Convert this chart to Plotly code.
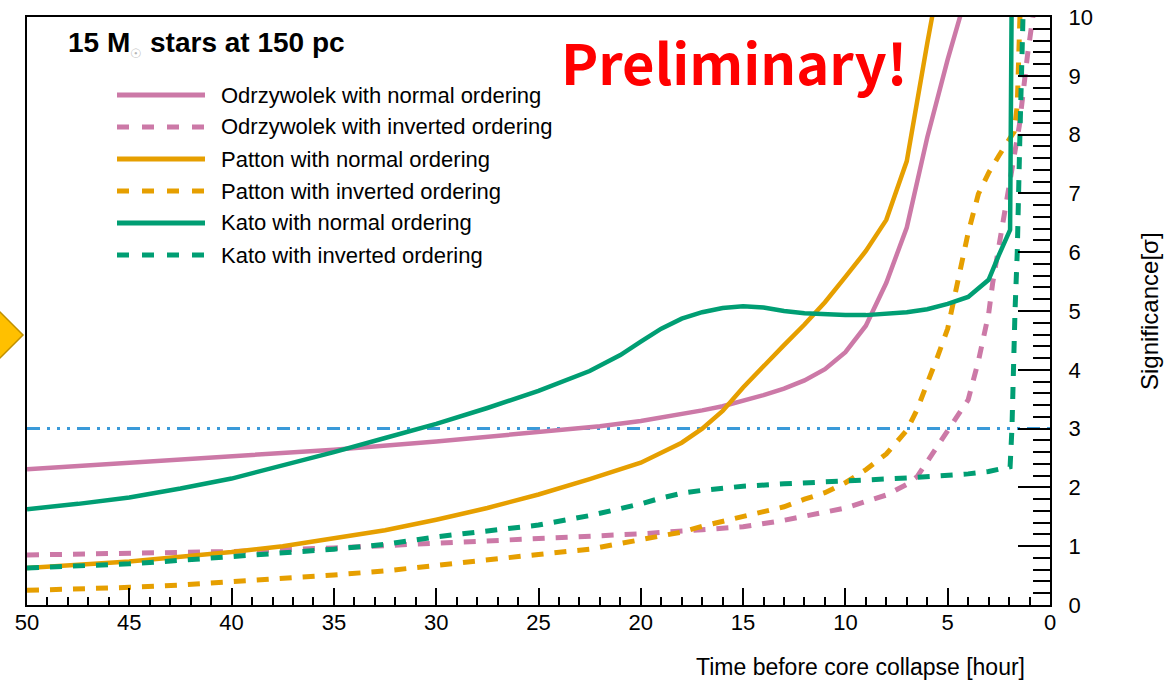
import plotly.graph_objects as go

# Significance vs. time before core collapse for three pre-supernova neutrino models
odr_no_t = [50, 45, 40, 35, 30, 25, 22, 20, 18, 17, 16, 15, 14, 13, 12, 11, 10, 9, 8, 7, 6, 5, 4.4, 4.0]
odr_no_s = [2.31, 2.42, 2.52, 2.64, 2.78, 2.94, 3.04, 3.13, 3.24, 3.31, 3.38, 3.47, 3.57, 3.68, 3.82, 4.01, 4.30, 4.75, 5.48, 6.42, 7.95, 9.28, 10.0, 10.6]

odr_io_t = [50, 45, 40, 35, 30, 25, 20, 17, 15, 13, 11, 10, 9, 8, 7, 6.5, 6, 5.5, 5, 4.5, 4, 3.5, 3, 2.8, 2.5, 2.1, 1.5, 1.1, 0.9, 0.8]
odr_io_s = [0.85, 0.88, 0.91, 0.97, 1.05, 1.13, 1.21, 1.28, 1.33, 1.44, 1.57, 1.65, 1.76, 1.87, 2.05, 2.18, 2.44, 2.70, 2.96, 3.22, 3.49, 4.15, 4.95, 5.48, 6.08, 6.90, 8.15, 9.35, 9.85, 10.1]

pat_no_t = [50, 47.5, 45, 42.5, 40, 37.5, 35, 32.5, 30, 27.5, 25, 22.5, 20, 19, 18, 17, 16, 15, 14, 13, 12, 11, 10, 9, 8, 7, 6, 5.5]
pat_no_s = [0.63, 0.68, 0.74, 0.82, 0.90, 1.00, 1.13, 1.27, 1.45, 1.65, 1.88, 2.14, 2.42, 2.58, 2.76, 3.00, 3.30, 3.70, 4.07, 4.42, 4.77, 5.15, 5.58, 6.02, 6.55, 7.55, 9.55, 10.5]

pat_io_t = [50, 47.5, 45, 42.5, 40, 37.5, 35, 32.5, 30, 27.5, 25, 22.5, 20, 18, 17, 15, 14, 13, 12, 11, 10, 9, 8, 7, 6.5, 6, 5.5, 5, 4.5, 4, 3.5, 3, 2.5, 2.1, 1.75, 1.6, 1.56, 1.47]
pat_io_s = [0.25, 0.27, 0.30, 0.34, 0.39, 0.45, 0.51, 0.58, 0.68, 0.78, 0.86, 0.95, 1.10, 1.24, 1.34, 1.50, 1.57, 1.67, 1.80, 1.91, 2.08, 2.30, 2.57, 2.97, 3.32, 3.76, 4.22, 4.70, 5.56, 6.33, 6.99, 7.35, 7.64, 7.86, 8.05, 8.50, 9.00, 10.0]

kato_no_t = [50, 47.5, 45, 42.5, 40, 37.5, 35, 32.5, 30, 27.5, 25, 22.5, 21, 20, 19, 18, 17, 16, 15, 14, 13, 12, 11, 10, 9, 8, 7, 6, 5, 4, 3, 2.5, 1.95, 1.87]
kato_no_s = [1.63, 1.72, 1.83, 1.98, 2.15, 2.37, 2.60, 2.84, 3.08, 3.35, 3.64, 3.98, 4.25, 4.48, 4.70, 4.87, 4.98, 5.05, 5.08, 5.06, 5.00, 4.96, 4.94, 4.93, 4.93, 4.95, 4.98, 5.03, 5.12, 5.24, 5.53, 5.95, 6.38, 10.5]

kato_io_t = [50, 47.5, 45, 42.5, 40, 37.5, 35, 32.5, 30, 27.5, 25, 22.5, 21, 20, 19, 18, 17, 16, 15, 13, 10, 7, 4, 3, 1.95, 1.86, 1.71, 1.6, 1.47, 1.32]
kato_io_s = [0.63, 0.66, 0.70, 0.76, 0.82, 0.88, 0.95, 1.03, 1.16, 1.26, 1.36, 1.52, 1.63, 1.72, 1.82, 1.90, 1.95, 1.99, 2.02, 2.06, 2.10, 2.16, 2.23, 2.27, 2.35, 3.00, 5.00, 6.00, 8.00, 10.0]

# 3 sigma evidence threshold
sigma_level = 3.0
threshold_t = [50, 0]

names = [
    "Odrzywolek with normal ordering",
    "Odrzywolek with inverted ordering",
    "Patton with normal ordering",
    "Patton with inverted ordering",
    "Kato with normal ordering",
    "Kato with inverted ordering",
]
PINK, ORANGE, GREEN, BLUE = "#CC79A7", "#E69F00", "#009E73", "#3a9ad9"
DASHED = "12px,11px"

series = [
    (odr_no_t, odr_no_s, PINK, "solid"),
    (odr_io_t, odr_io_s, PINK, DASHED),
    (pat_no_t, pat_no_s, ORANGE, "solid"),
    (pat_io_t, pat_io_s, ORANGE, DASHED),
    (kato_no_t, kato_no_s, GREEN, "solid"),
    (kato_io_t, kato_io_s, GREEN, DASHED),
]

FONT = "Liberation Sans, Arial, Helvetica, sans-serif"
L, R, T, B = 27, 118, 17, 79
W, H = 1168, 684
PW, PH = W - L - R, H - T - B


def px_x(p):
    return (p - L) / PW


def px_y(p):
    return (H - B - p) / PH


fig = go.Figure()

fig.add_trace(go.Scatter(
    x=threshold_t, y=[sigma_level] * len(threshold_t), mode="lines",
    line=dict(color=BLUE, width=3, dash="13px,7px,3px,7px,3px,7px,3px,7px"),
    showlegend=False, hoverinfo="skip",
))

for name, (t, s, color, dash) in zip(names, series):
    fig.add_trace(go.Scatter(
        x=t, y=s, mode="lines", name=name,
        line=dict(color=color, width=4.5 if dash == "solid" else 5, dash=dash),
        showlegend=False,
    ))

shapes = []
annotations = []

# legend block drawn in the upper-left corner of the frame
row_px = [95, 127, 159, 191, 223, 255]
for name, (t, s, color, dash), ry in zip(names, series, row_px):
    shapes.append(dict(
        type="line", xref="paper", yref="paper",
        x0=px_x(117), x1=px_x(205), y0=px_y(ry), y1=px_y(ry),
        line=dict(color=color, width=5, dash="12px,13px" if dash != "solid" else "solid"),
    ))
    annotations.append(dict(
        xref="paper", yref="paper", x=px_x(219), y=px_y(ry),
        xanchor="left", yanchor="middle", showarrow=False,
        text=name, font=dict(family=FONT, size=22, color="black"),
    ))

# orange diamond marker at the left edge
dx0, dx1, dx2 = px_x(-25), px_x(-1), px_x(23)
dy0, dy1, dy2 = px_y(311), px_y(335), px_y(359)
shapes.append(dict(
    type="path", xref="paper", yref="paper",
    path=f"M {dx0},{dy1} L {dx1},{dy0} L {dx2},{dy1} L {dx1},{dy2} Z",
    fillcolor="#FFC000", line=dict(color="#BF9000", width=1.5),
))

annotations += [
    dict(xref="paper", yref="paper", x=px_x(66), y=px_y(44),
         xanchor="left", yanchor="middle", showarrow=False,
         text="<b>15 M</b><sub><span style='font-size:13px;color:#b5b5b5'>☉</span></sub><b> stars at 150 pc</b>",
         font=dict(family=FONT, size=28, color="black")),
    dict(xref="paper", yref="paper", x=px_x(559), y=px_y(61),
         xanchor="left", yanchor="middle", showarrow=False,
         text="<b>Preliminary!</b>",
         font=dict(family="Noto Sans CJK SC, Noto Sans, sans-serif", size=56, color="#ff0000")),
    dict(xref="paper", yref="paper", x=px_x(1027), y=px_y(667),
         xanchor="right", yanchor="middle", showarrow=False,
         text="Time before core collapse [hour]",
         font=dict(family=FONT, size=23, color="black")),
    dict(xref="paper", yref="paper", x=px_x(1149), y=px_y(311),
         xanchor="center", yanchor="middle", showarrow=False, textangle=-90,
         text="Significance[σ]",
         font=dict(family=FONT, size=24, color="black")),
]

fig.update_layout(
    width=W, height=H,
    margin=dict(l=L, r=R, t=T, b=B, pad=0, autoexpand=False),
    paper_bgcolor="white", plot_bgcolor="white",
    font=dict(family=FONT, size=22, color="black"),
    shapes=shapes, annotations=annotations,
    showlegend=False,
)

fig.update_xaxes(
    range=[50, 0], showgrid=False, zeroline=False, automargin=False,
    showline=True, linecolor="black", linewidth=2, mirror=True,
    ticks="inside", ticklen=17, tickwidth=1.5, tickcolor="black",
    tick0=0, dtick=5, ticklabelstandoff=-3,
    tickfont=dict(family=FONT, size=22, color="black"),
    minor=dict(ticks="inside", ticklen=8, tickwidth=1.5, tickcolor="black", dtick=1, showgrid=False),
)
fig.update_yaxes(
    range=[0, 10], side="right", showgrid=False, zeroline=False, automargin=False,
    showline=True, linecolor="black", linewidth=2, mirror=True,
    ticks="inside", ticklen=32, tickwidth=1.5, tickcolor="black",
    tick0=0, dtick=1, ticklabelstandoff=12,
    tickfont=dict(family=FONT, size=22, color="black"),
    minor=dict(ticks="inside", ticklen=17, tickwidth=1.5, tickcolor="black", dtick=0.2, showgrid=False),
)

fig.write_html("out.html")
